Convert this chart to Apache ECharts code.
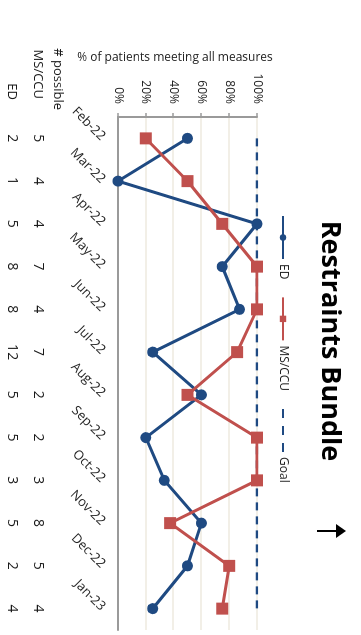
<!DOCTYPE html>
<html>
<head>
<meta charset="utf-8">
<script src="https://cdn.jsdelivr.net/npm/echarts@6/dist/echarts.min.js"></script>
<style>
  html, body { margin: 0; padding: 0; background: #fff; overflow: hidden; }
  #stage { position: relative; width: 361px; height: 635px; overflow: hidden; }
  /* The chart is laid out landscape and turned a quarter turn clockwise */
  #chart {
    position: absolute; left: 0; top: 0;
    width: 635px; height: 361px;
    transform-origin: 0 0;
    transform: translate(361px, 0) rotate(90deg);
  }
</style>
</head>
<body>
<div id="stage"><div id="chart"></div></div>
<script>
// Monthly compliance with the restraints bundle
const months = ['Feb-22', 'Mar-22', 'Apr-22', 'May-22', 'Jun-22', 'Jul-22',
                'Aug-22', 'Sep-22', 'Oct-22', 'Nov-22', 'Dec-22', 'Jan-23'];
const edPct   = [50, 0, 100, 75, 87.5, 25, 60, 20, 33.3, 60, 50, 25];
const msPct   = [20, 50, 75, 100, 100, 85.7, 50, 100, 100, 37.5, 80, 75];
const goalPct = [100, 100, 100, 100, 100, 100, 100, 100, 100, 100, 100, 100];

// Number of eligible patients per month
const msPossible = [5, 4, 4, 7, 4, 7, 2, 2, 3, 8, 5, 4];
const edPossible = [2, 1, 5, 8, 8, 12, 5, 5, 3, 5, 2, 4];

const seriesNames = ['ED', 'MS/CCU', 'Goal'];
const titleText = 'Restraints Bundle';
const axisTitle = '% of patients meeting all measures';
const tableHeader = '# possible';

const FONT = '"Open Sans", "Noto Sans", sans-serif';
const ED_COLOR = '#1F4A82';
const MS_COLOR = '#C0504D';
const AXIS_COLOR = '#9a9a9a';

const chart = echarts.init(document.getElementById('chart'), null, { renderer: 'canvas' });

const tableAxis = (data, offset) => ({
  type: 'category',
  gridIndex: 0,
  data: data.map(String),
  position: 'bottom',
  offset: offset,
  boundaryGap: true,
  axisLine: { show: false },
  axisTick: { show: false },
  splitLine: { show: false },
  axisLabel: { interval: 0, margin: 0, fontFamily: FONT, fontSize: 14, color: '#1a1a1a' }
});

chart.setOption({
  animation: false,
  textStyle: { fontFamily: FONT },
  grid: { left: 117, right: 5, top: 104, bottom: 118, containLabel: false },
  legend: {
    data: [
      { name: seriesNames[0] },
      { name: seriesNames[1] },
      // dashed target line only, no marker in its key; three whole dashes
      { name: seriesNames[2], itemStyle: { opacity: 0 }, lineStyle: { type: [9, 8] } }
    ],
    left: 210, top: 67,
    itemWidth: 43, itemHeight: 8, itemGap: 17,
    textStyle: { fontFamily: FONT, fontSize: 12, color: '#222' }
  },
  xAxis: [
    {
      type: 'category',
      data: months,
      boundaryGap: true,
      axisLine: { lineStyle: { color: AXIS_COLOR, width: 2 } },
      axisTick: { show: false },
      axisLabel: { interval: 0, rotate: 45, margin: 15, fontFamily: FONT, fontSize: 13, color: '#262626' }
    },
    tableAxis(msPossible, 73),
    tableAxis(edPossible, 99)
  ],
  yAxis: {
    type: 'value',
    min: 0, max: 100, interval: 20,
    axisLine: { show: true, lineStyle: { color: AXIS_COLOR, width: 2 } },
    axisTick: { show: true, length: 4, lineStyle: { color: AXIS_COLOR, width: 1.5 } },
    axisLabel: { formatter: '{value}%', margin: 13, fontFamily: FONT, fontSize: 12, color: '#262626' },
    splitLine: { show: true, lineStyle: { color: '#EEEADF', width: 1.5 } }
  },
  series: [
    {
      name: 'ED', type: 'line', data: edPct, z: 3,
      symbol: 'circle', symbolSize: 11,
      lineStyle: { color: ED_COLOR, width: 3 },
      itemStyle: { color: ED_COLOR }
    },
    {
      name: 'MS/CCU', type: 'line', data: msPct, z: 4,
      symbol: 'rect', symbolSize: 12,
      lineStyle: { color: MS_COLOR, width: 3 },
      itemStyle: { color: MS_COLOR }
    },
    {
      name: 'Goal', type: 'line', data: goalPct, z: 2,
      symbol: 'none',
      lineStyle: { color: ED_COLOR, width: 2.5, type: [8, 6] },
      itemStyle: { color: ED_COLOR }
    }
  ],
  graphic: [
    {
      type: 'text', x: 341, y: 31,
      style: { text: titleText, font: 'bold 27px ' + FONT, fill: '#000', align: 'center', verticalAlign: 'middle' }
    },
    {
      type: 'text', x: 58, y: 186, rotation: Math.PI / 2,
      style: { text: axisTitle, font: '12px ' + FONT, fill: '#262626', align: 'center', verticalAlign: 'middle' }
    },
    {
      type: 'text', x: 110, y: 303,
      style: { text: tableHeader, font: '13px ' + FONT, fill: '#1a1a1a', align: 'right', verticalAlign: 'middle' }
    },
    {
      type: 'text', x: 99, y: 323,
      style: { text: seriesNames[1], font: '13px ' + FONT, fill: '#1a1a1a', align: 'right', verticalAlign: 'middle' }
    },
    {
      type: 'text', x: 100, y: 349,
      style: { text: seriesNames[0], font: '13px ' + FONT, fill: '#1a1a1a', align: 'right', verticalAlign: 'middle' }
    },
    // "higher is better" arrow beside the title
    {
      type: 'line',
      shape: { x1: 531, y1: 44, x2: 531, y2: 24 },
      style: { stroke: '#000', lineWidth: 2 }
    },
    {
      type: 'polygon',
      shape: { points: [[531, 15], [524, 25], [538, 25]] },
      style: { fill: '#000' }
    }
  ]
});
</script>
</body>
</html>
